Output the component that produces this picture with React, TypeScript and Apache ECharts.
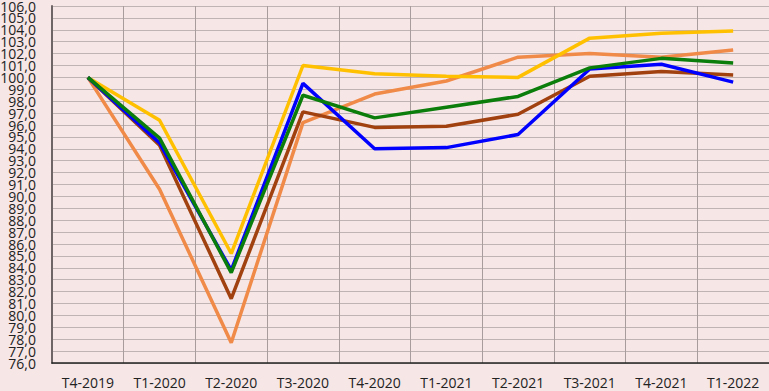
import React, { useEffect, useRef } from "react";
import * as echarts from "echarts";

const categories = ["T4-2019", "T1-2020", "T2-2020", "T3-2020", "T4-2020", "T1-2021", "T2-2021", "T3-2021", "T4-2021", "T1-2022"];
const orangeValues = [100, 90.6, 77.7, 96.2, 98.6, 99.7, 101.7, 102.0, 101.7, 102.3];
const brownValues = [100, 94.3, 81.4, 97.1, 95.8, 95.9, 96.9, 100.1, 100.5, 100.2];
const blueValues = [100, 94.5, 83.8, 99.5, 94.0, 94.1, 95.2, 100.7, 101.1, 99.6];
const yellowValues = [100, 96.4, 85.2, 101.0, 100.3, 100.1, 100.0, 103.3, 103.7, 103.9];
const greenValues = [100, 94.9, 83.6, 98.5, 96.6, 97.5, 98.4, 100.8, 101.6, 101.2];

const evenTicks = [76, 78, 80, 82, 84, 86, 88, 90, 92, 94, 96, 98, 100, 102, 104, 106];
const oddTicks = [77, 79, 81, 83, 85, 87, 89, 91, 93, 95, 97, 99, 101, 103, 105];

const BG = "#f6e6e6";

export default function App() {
  const ref = useRef<HTMLDivElement>(null);
  useEffect(() => {
    document.body.style.margin = "0";
    document.body.style.background = BG;
    const chart = echarts.init(ref.current!, null, { renderer: "svg" });
    const mk = (name: string, data: number[], color: string) => ({
      name,
      type: "line",
      data,
      yAxisIndex: 0,
      symbol: "none",
      lineStyle: { color, width: 3.5 },
      itemStyle: { color },
    });
    const labelStyle = (values: number[]) => ({
      color: "#222",
      fontFamily: "Open Sans",
      fontSize: 14,
      lineHeight: 11,
      margin: 16,
      showMinLabel: true,
      showMaxLabel: true,
      customValues: values,
      formatter: (v: number) => v.toFixed(1).replace(".", ","),
    });
    chart.setOption({
      animation: false,
      backgroundColor: BG,
      grid: { left: 52, right: 0, top: 6, bottom: 28, containLabel: false, outerBoundsMode: "none" },
      xAxis: {
        type: "category",
        data: categories,
        boundaryGap: true,
        axisLine: { show: true, lineStyle: { color: "#222", width: 1.5 } },
        axisTick: { show: false },
        axisLabel: { color: "#222", fontFamily: "Open Sans", fontSize: 14, margin: 12, interval: 0 },
        splitLine: { show: true, lineStyle: { color: "#a89c9c", width: 1 } },
      },
      yAxis: [
        {
          type: "value",
          position: "left",
          min: 76,
          max: 106,
          interval: 1,
          axisLine: { show: true, lineStyle: { color: "#6e6666", width: 2 } },
          axisTick: { show: false },
          axisLabel: labelStyle(evenTicks),
          splitLine: { show: true, lineStyle: { color: "#bfb3b3", width: 1 } },
        },
        {
          type: "value",
          position: "left",
          offset: 0,
          min: 76,
          max: 106,
          interval: 1,
          axisLine: { show: false },
          axisTick: { show: false },
          axisLabel: labelStyle(oddTicks),
          splitLine: { show: false },
        },
      ],
      series: [
        mk("Orange", orangeValues, "#f08a48"),
        mk("Yellow", yellowValues, "#ffc000"),
        mk("Brown", brownValues, "#a0410f"),
        mk("Blue", blueValues, "#0000ff"),
        mk("Green", greenValues, "#0a7d0a"),
      ],
    });
    return () => chart.dispose();
  }, []);
  return <div ref={ref} style={{ position: "absolute", left: 0, top: 0, width: 769, height: 391 }} />;
}
